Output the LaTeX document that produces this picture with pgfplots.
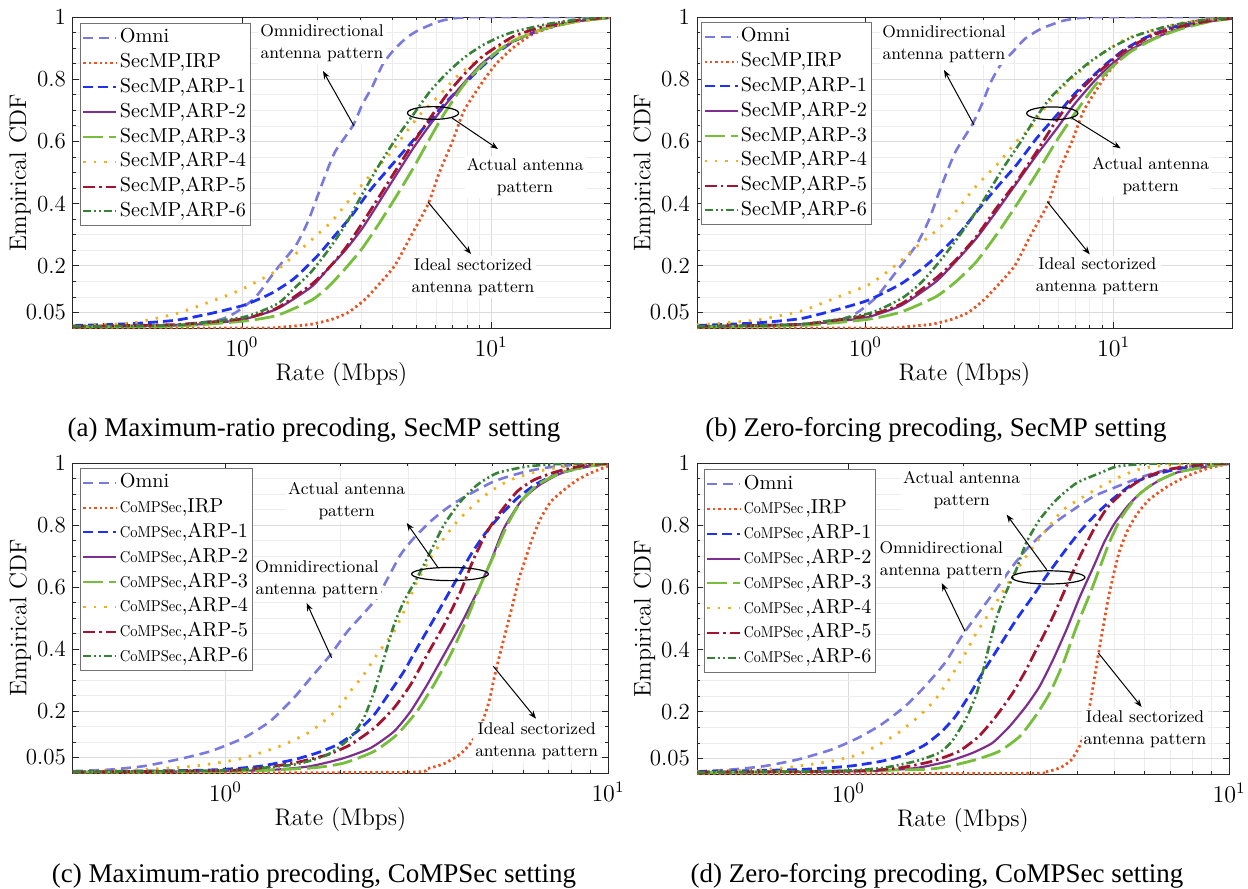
\documentclass[border=0pt]{standalone}
\usepackage{fontspec}
\usepackage{graphicx}
\usepackage{pgfplots}
\pgfplotsset{compat=1.18}
\usetikzlibrary{arrows.meta}
\newfontfamily\capfont{Liberation Serif}
\definecolor{cOmni}{RGB}{122,122,222}
\definecolor{cIRP}{RGB}{232,85,35}
\definecolor{cAa}{RGB}{30,50,240}
\definecolor{cAb}{RGB}{126,47,142}
\definecolor{cAc}{RGB}{119,190,60}
\definecolor{cAd}{RGB}{237,177,32}
\definecolor{cAe}{RGB}{162,20,47}
\definecolor{cAf}{RGB}{55,130,55}
\newcommand{\annfont}{\fontsize{8.5}{11}\selectfont}
\newcommand{\cm}{\scalebox{0.72}[0.78]{CoMPSec}}
\newcommand{\cmd}{\scalebox{0.69}[0.78]{CoMPSec}\kern1pt}
\tikzset{
  omni/.style={draw=cOmni, line width=1.3pt, dash pattern=on 5pt off 3pt},
  irp/.style={draw=cIRP, line width=1.4pt, dash pattern=on 1.2pt off 1.5pt},
  arpa/.style={draw=cAa, line width=1.4pt, dash pattern=on 5pt off 2.5pt},
  arpb/.style={draw=cAb, line width=1.1pt},
  arpc/.style={draw=cAc, line width=1.4pt, dash pattern=on 10pt off 3pt},
  arpd/.style={draw=cAd, line width=1.4pt, dash pattern=on 1.2pt off 4pt},
  arpe/.style={draw=cAe, line width=1.4pt, dash pattern=on 6pt off 2pt on 1.2pt off 2pt},
  arpf/.style={draw=cAf, line width=1.3pt, dash pattern=on 4pt off 1.5pt on 1pt off 1.5pt on 1pt off 1.5pt},
  legimg/.style={line width=1pt},
  ann/.style={fill=white, inner sep=1pt, align=center, font=\annfont},
  arr/.style={-{Stealth[length=4pt,width=3pt]}, line width=0.5pt},
}
\pgfplotsset{
  legend image code/.code={\draw[#1] (0pt,0pt) -- (16.5pt,0pt);},
}
\pgfplotsset{
  every axis/.append style={
    scale only axis, ymin=0, ymax=1,
    xtick={1,10},
    ytick={0.05,0.2,0.4,0.6,0.8,1}, yticklabels={0.05,0.2,0.4,0.6,0.8,1},
    minor ytick={0.1,0.15,0.25,0.3,0.35,0.45,0.5,0.55,0.65,0.7,0.75,0.85,0.9,0.95},
    grid=both,
    major grid style={black!14, line width=0.4pt},
    minor grid style={black!7, line width=0.3pt},
    tick align=inside, major tick length=3pt, minor tick length=1.5pt,
    axis line style={black!85, line width=0.5pt},
    tick style={black!85, line width=0.4pt},
    ticklabel style={font=\fontsize{11.5}{13}\selectfont},
    xticklabel style={yshift=-1pt},
    label style={font=\fontsize{12}{14}\selectfont},
    xlabel={Rate (Mbps)}, ylabel={Empirical CDF},
    xlabel style={at={(axis description cs:0.5,-0.151)}, anchor=center},
    ylabel style={at={(axis description cs:-0.0987,0.5)}, anchor=center},
    legend cell align=left,
    legend style={anchor=north west, draw=black!55, line width=0.5pt, fill=white,
      inner sep=1pt, row sep=0pt, font=\fontsize{10.1}{12}\selectfont,
      nodes={inner sep=1.2pt, text height=7.5pt, text depth=2.5pt}},
  },
  every axis plot/.append style={smooth, tension=0.35},
}
\newcommand{\leg}[2]{\addlegendimage{#1, legimg}\addlegendentry{#2}}
\begin{document}
\begin{tikzpicture}
\useasboundingbox (0,0) rectangle (624pt,-444.5pt);
% ---------------- (a)
\begin{semilogxaxis}[at={(36.5pt,-8.5pt)}, anchor=north west, width=268.5pt, height=155.5pt,
  xmin=0.21, xmax=30, legend style={at={(0.013,0.981)}}]
\leg{omni}{Omni}
\leg{irp}{SecMP,IRP}
\leg{arpa}{SecMP,ARP-1}
\leg{arpb}{SecMP,ARP-2}
\leg{arpc}{SecMP,ARP-3}
\leg{arpd}{SecMP,ARP-4}
\leg{arpe}{SecMP,ARP-5}
\leg{arpf}{SecMP,ARP-6}
\addplot[omni, forget plot] coordinates {(0.21,0.004) (0.5,0.008) (0.8,0.025) (0.945,0.05) (1.137,0.10) (1.368,0.186) (1.65,0.267) (1.84,0.342) (2.02,0.428) (2.19,0.503) (2.37,0.568) (2.79,0.651) (3.04,0.718) (3.34,0.777) (3.67,0.847) (4.03,0.89) (4.57,0.933) (5.18,0.96) (6.25,0.987) (7.31,0.997) (9.1,1.0) (30,1.0)};
\addplot[irp, forget plot] coordinates {(0.21,0) (1.2,0.0) (1.5,0.004) (1.9,0.012) (2.3,0.028) (2.67,0.05) (3.1,0.09) (3.5,0.135) (4.1,0.2) (4.8,0.3) (5.6,0.4) (6.2,0.5) (7.0,0.6) (7.8,0.7) (9.4,0.8) (10.5,0.85) (12.2,0.9) (14.6,0.944) (18.1,0.971) (23.3,0.99) (30,0.999)};
\addplot[arpa, forget plot] coordinates {(0.21,0.008) (0.36,0.014) (0.543,0.025) (0.743,0.046) (1.016,0.073) (1.31,0.111) (1.62,0.159) (2.02,0.234) (2.37,0.299) (2.77,0.363) (3.24,0.439) (3.79,0.503) (4.57,0.578) (5.51,0.654) (6.65,0.729) (7.78,0.783) (9.1,0.837) (10.6,0.885) (12.4,0.923) (16.0,0.96) (21.9,0.987) (30,0.998)};
\addplot[arpb, forget plot] coordinates {(0.21,0.005) (0.543,0.009) (0.743,0.014) (1.016,0.028) (1.39,0.062) (1.90,0.132) (2.22,0.191) (2.60,0.25) (3.04,0.32) (3.56,0.406) (4.16,0.492) (4.87,0.578) (5.69,0.654) (6.65,0.724) (7.78,0.788) (9.1,0.847) (10.6,0.89) (12.4,0.923) (16,0.96) (21.9,0.985) (30,0.998)};
\addplot[arpc, forget plot] coordinates {(0.21,0.004) (0.543,0.006) (1.016,0.022) (1.39,0.041) (1.9,0.089) (2.22,0.132) (2.6,0.191) (3.04,0.256) (3.56,0.337) (4.16,0.423) (4.87,0.514) (5.69,0.611) (6.45,0.686) (7.78,0.783) (9.1,0.842) (10.6,0.89) (12.4,0.925) (16,0.96) (21.9,0.985) (30,0.998)};
\addplot[arpd, forget plot] coordinates {(0.21,0.008) (0.36,0.016) (0.543,0.046) (0.743,0.084) (0.985,0.122) (1.35,0.18) (1.62,0.234) (1.96,0.293) (2.29,0.342) (2.77,0.423) (3.24,0.487) (3.85,0.552) (4.43,0.616) (5.18,0.686) (6.25,0.751) (7.31,0.81) (8.55,0.853) (10,0.89) (12.4,0.928) (17,0.966) (23.3,0.987) (30,0.998)};
\addplot[arpe, forget plot] coordinates {(0.21,0.005) (0.543,0.011) (1.016,0.03) (1.39,0.065) (1.9,0.14) (2.22,0.191) (2.6,0.256) (3.04,0.337) (3.56,0.423) (4.16,0.509) (4.87,0.595) (5.69,0.675) (6.65,0.751) (7.78,0.815) (9.1,0.869) (10.6,0.906) (12.4,0.939) (16,0.968) (21.9,0.989) (30,0.999)};
\addplot[arpf, forget plot] coordinates {(0.21,0.005) (0.543,0.009) (1.016,0.035) (1.39,0.078) (1.62,0.127) (1.9,0.181) (2.22,0.25) (2.6,0.331) (3.04,0.43) (3.56,0.525) (4.16,0.61) (4.87,0.686) (5.69,0.761) (6.65,0.82) (7.78,0.869) (9.1,0.906) (10.6,0.933) (12.4,0.953) (17,0.978) (23.3,0.994) (30,1.0)};
\node[ann] at (rel axis cs:0.4637,0.9164) {Omnidirectional\\antenna pattern};
\draw[arr] (rel axis cs:0.5233,0.6495) -- (rel axis cs:0.4655,0.8264);
\draw[line width=0.6pt] (rel axis cs:0.6704,0.6913) ellipse (12.8pt and 3.2pt);
\draw[arr] (rel axis cs:0.7058,0.6752) -- (rel axis cs:0.7914,0.5756);
\node[ann] at (rel axis cs:0.8417,0.4855) {Actual antenna\\pattern};
\draw[arr] (rel axis cs:0.6611,0.4051) -- (rel axis cs:0.7412,0.2379);
\node[ann] at (rel axis cs:0.7449,0.164) {Ideal sectorized\\antenna pattern};
\end{semilogxaxis}
% ---------------- (b)
\begin{semilogxaxis}[at={(348.5pt,-8.5pt)}, anchor=north west, width=267.5pt, height=155.5pt,
  xmin=0.21, xmax=30, legend style={at={(0.0075,0.984)}}]
\leg{omni}{Omni}
\leg{irp}{SecMP,IRP}
\leg{arpa}{SecMP,ARP-1}
\leg{arpb}{SecMP,ARP-2}
\leg{arpc}{SecMP,ARP-3}
\leg{arpd}{SecMP,ARP-4}
\leg{arpe}{SecMP,ARP-5}
\leg{arpf}{SecMP,ARP-6}
\addplot[omni, forget plot] coordinates {(0.21,0.004) (0.5,0.008) (0.78,0.025) (0.93,0.05) (1.11,0.10) (1.33,0.18) (1.60,0.265) (1.80,0.345) (1.97,0.43) (2.14,0.505) (2.32,0.57) (2.70,0.655) (2.95,0.72) (3.20,0.79) (3.50,0.845) (3.9,0.885) (4.4,0.93) (5.1,0.962) (6.2,0.987) (7.3,0.997) (9,1.0) (30,1.0)};
\addplot[irp, forget plot] coordinates {(0.21,0) (1.2,0) (1.45,0.004) (1.85,0.012) (2.23,0.028) (2.6,0.05) (3.0,0.09) (3.4,0.135) (4.0,0.2) (4.65,0.3) (5.45,0.4) (6.0,0.5) (6.8,0.6) (7.6,0.7) (9.1,0.8) (10.2,0.85) (11.9,0.9) (14.2,0.944) (17.6,0.971) (22.6,0.99) (30,0.999)};
\addplot[arpa, forget plot] coordinates {(0.21,0.008) (0.36,0.016) (0.548,0.03) (0.75,0.057) (1.025,0.089) (1.40,0.143) (1.80,0.208) (2.39,0.304) (2.88,0.385) (3.37,0.45) (4.07,0.525) (4.91,0.611) (5.93,0.686) (6.93,0.751) (8.10,0.804) (9.46,0.853) (11.1,0.896) (13.4,0.933) (17.2,0.966) (23.5,0.987) (30,0.996)};
\addplot[arpb, forget plot] coordinates {(0.21,0.005) (0.548,0.012) (0.75,0.02) (1.025,0.035) (1.40,0.073) (1.92,0.148) (2.31,0.213) (2.80,0.288) (3.37,0.374) (4.07,0.466) (4.91,0.557) (5.93,0.643) (6.93,0.718) (8.37,0.794) (9.78,0.847) (11.8,0.896) (14.7,0.933) (18.9,0.966) (25,0.987) (30,0.995)};
\addplot[arpc, forget plot] coordinates {(0.21,0.004) (0.548,0.008) (1.025,0.028) (1.40,0.052) (1.92,0.1) (2.31,0.148) (2.80,0.213) (3.37,0.299) (4.07,0.396) (4.91,0.498) (5.93,0.605) (6.93,0.686) (8.37,0.777) (9.78,0.837) (11.8,0.89) (14.7,0.931) (18.9,0.963) (25,0.987) (30,0.995)};
\addplot[arpd, forget plot] coordinates {(0.21,0.01) (0.36,0.025) (0.548,0.054) (0.75,0.095) (1.025,0.138) (1.2,0.175) (1.40,0.218) (1.64,0.267) (1.98,0.32) (2.31,0.374) (2.71,0.444) (3.07,0.49) (3.48,0.535) (4.07,0.6) (4.76,0.654) (5.22,0.702) (6.13,0.767) (7.37,0.826) (8.88,0.88) (11.1,0.928) (14.7,0.96) (20,0.985) (30,0.998)};
\addplot[arpe, forget plot] coordinates {(0.21,0.005) (0.548,0.012) (1.025,0.041) (1.40,0.078) (1.92,0.159) (2.31,0.218) (2.80,0.294) (3.37,0.385) (4.07,0.471) (4.91,0.568) (5.74,0.654) (6.71,0.729) (8.10,0.799) (9.78,0.858) (11.8,0.906) (14.7,0.944) (18.9,0.971) (25,0.989) (30,0.996)};
\addplot[arpf, forget plot] coordinates {(0.21,0.005) (0.548,0.012) (1.025,0.046) (1.40,0.095) (1.69,0.148) (2.04,0.224) (2.46,0.31) (2.97,0.406) (3.59,0.514) (4.20,0.595) (4.76,0.665) (5.56,0.74) (6.71,0.804) (8.10,0.858) (9.78,0.901) (12.2,0.939) (16.1,0.968) (22.1,0.989) (30,0.998)};
\node[ann] at (rel axis cs:0.4617,0.912) {Omnidirectional\\antenna pattern};
\draw[arr] (rel axis cs:0.5178,0.6527) -- (rel axis cs:0.4617,0.8296);
\draw[line width=0.6pt] (rel axis cs:0.6641,0.6903) ellipse (12.8pt and 3.2pt);
\draw[arr] (rel axis cs:0.7015,0.6743) -- (rel axis cs:0.7919,0.5778);
\node[ann] at (rel axis cs:0.848,0.4887) {Actual antenna\\pattern};
\draw[arr] (rel axis cs:0.6548,0.4062) -- (rel axis cs:0.734,0.2369);
\node[ann] at (rel axis cs:0.7483,0.165) {Ideal sectorized\\antenna pattern};
\end{semilogxaxis}
% ---------------- (c)
\begin{semilogxaxis}[at={(36.5pt,-231.5pt)}, anchor=north west, width=267.5pt, height=155pt,
  xmin=0.4, xmax=10, legend style={at={(0.013,0.984)}}]
\leg{omni}{Omni}
\leg{irp}{\cm,IRP}
\leg{arpa}{\cm,ARP-1}
\leg{arpb}{\cm,ARP-2}
\leg{arpc}{\cm,ARP-3}
\leg{arpd}{\cm,ARP-4}
\leg{arpe}{\cm,ARP-5}
\leg{arpf}{\cm,ARP-6}
\addplot[omni, forget plot] coordinates {(0.4,0.006) (0.5,0.011) (0.611,0.022) (0.747,0.043) (0.914,0.07) (1.117,0.113) (1.31,0.167) (1.51,0.242) (1.67,0.306) (1.88,0.38) (2.08,0.455) (2.30,0.515) (2.49,0.565) (2.65,0.625) (2.87,0.704) (3.11,0.758) (3.44,0.812) (3.80,0.855) (4.21,0.89) (5.04,0.941) (5.92,0.968) (6.81,0.984) (8.33,0.995) (10,1.0)};
\addplot[irp, forget plot] coordinates {(0.4,0) (2.9,0.002) (3.37,0.014) (3.73,0.03) (4.12,0.062) (4.40,0.1) (4.65,0.15) (4.89,0.231) (5.04,0.306) (5.19,0.371) (5.35,0.435) (5.52,0.5) (5.69,0.565) (5.86,0.629) (6.10,0.694) (6.35,0.758) (6.68,0.823) (7.10,0.876) (7.69,0.914) (8.33,0.946) (9.02,0.968) (10,0.99)};
\addplot[arpa, forget plot] coordinates {(0.4,0.004) (0.8,0.008) (1.0,0.012) (1.235,0.022) (1.51,0.043) (1.74,0.065) (1.96,0.091) (2.21,0.134) (2.45,0.188) (2.70,0.263) (2.93,0.328) (3.17,0.403) (3.44,0.478) (3.73,0.554) (4.04,0.629) (4.38,0.704) (4.75,0.769) (5.25,0.833) (5.80,0.887) (6.55,0.935) (7.53,0.968) (8.85,0.989) (10,0.997)};
\addplot[arpb, forget plot] coordinates {(0.4,0.003) (1.0,0.006) (1.36,0.011) (1.67,0.022) (2.04,0.048) (2.40,0.081) (2.76,0.134) (3.05,0.199) (3.37,0.285) (3.73,0.382) (4.12,0.478) (4.56,0.586) (4.94,0.683) (5.35,0.79) (5.92,0.876) (6.55,0.925) (7.38,0.962) (8.33,0.984) (10,0.997)};
\addplot[arpc, forget plot] coordinates {(0.4,0.003) (1.0,0.005) (1.67,0.016) (2.04,0.032) (2.45,0.07) (2.81,0.124) (3.17,0.199) (3.51,0.285) (3.88,0.382) (4.29,0.5) (4.65,0.608) (5.04,0.704) (5.46,0.801) (5.92,0.876) (6.55,0.93) (7.53,0.968) (8.85,0.989) (10,0.997)};
\addplot[arpd, forget plot] coordinates {(0.4,0.004) (0.611,0.011) (0.826,0.022) (1.07,0.043) (1.235,0.065) (1.42,0.091) (1.67,0.134) (1.96,0.204) (2.12,0.263) (2.30,0.317) (2.49,0.382) (2.76,0.457) (2.93,0.522) (3.17,0.618) (3.44,0.694) (3.73,0.758) (4.04,0.812) (4.47,0.866) (4.94,0.909) (5.57,0.946) (6.55,0.973) (8.0,0.992) (10,1.0)};
\addplot[arpe, forget plot] coordinates {(0.4,0.003) (1.0,0.008) (1.235,0.016) (1.51,0.032) (1.85,0.059) (2.12,0.091) (2.45,0.145) (2.76,0.21) (3.05,0.285) (3.37,0.382) (3.73,0.478) (4.12,0.586) (4.47,0.694) (4.84,0.78) (5.25,0.844) (5.80,0.909) (6.42,0.946) (7.38,0.973) (8.67,0.992) (10,0.999)};
\addplot[arpf, forget plot] coordinates {(0.4,0.004) (1.0,0.009) (1.51,0.027) (1.85,0.059) (2.12,0.113) (2.30,0.177) (2.45,0.263) (2.60,0.371) (2.76,0.478) (2.93,0.554) (3.17,0.629) (3.44,0.715) (3.73,0.801) (4.12,0.876) (4.56,0.93) (5.14,0.968) (6.17,0.989) (7.5,0.997) (10,1.0)};
\node[ann] at (rel axis cs:0.5116,0.8764) {Actual antenna\\pattern};
\draw[arr] (rel axis cs:0.6828,0.6613) -- (rel axis cs:0.6237,0.8065);
\draw[line width=0.6pt] (rel axis cs:0.7047,0.6419) ellipse (19.2pt and 3.3pt);
\coordinate (omC) at (rel axis cs:0.456,0.6269);
\draw[arr] (rel axis cs:0.4835,0.371) -- (rel axis cs:0.4368,0.5484);
\draw[arr] (rel axis cs:0.7857,0.3441) -- (rel axis cs:0.8654,0.1753);
\node[ann] at (rel axis cs:0.8667,0.1022) {Ideal sectorized\\antenna pattern};
\end{semilogxaxis}
\node[ann] at (omC) {Omnidirectional\\antenna pattern};
% ---------------- (d)
\begin{semilogxaxis}[at={(348.5pt,-231.5pt)}, anchor=north west, width=266pt, height=155.5pt,
  xmin=0.4, xmax=10, legend style={at={(0.013,0.98)}}]
\leg{omni}{Omni}
\leg{irp}{\cmd,IRP}
\leg{arpa}{\cmd,ARP-1}
\leg{arpb}{\cmd,ARP-2}
\leg{arpc}{\cmd,ARP-3}
\leg{arpd}{\cmd,ARP-4}
\leg{arpe}{\cmd,ARP-5}
\leg{arpf}{\cmd,ARP-6}
\addplot[omni, forget plot] coordinates {(0.4,0.008) (0.49,0.014) (0.598,0.025) (0.733,0.046) (0.90,0.078) (1.06,0.116) (1.22,0.159) (1.41,0.218) (1.59,0.282) (1.80,0.36) (1.99,0.445) (2.20,0.518) (2.44,0.593) (2.70,0.668) (2.93,0.721) (3.25,0.775) (3.52,0.812) (3.90,0.85) (4.41,0.893) (4.98,0.92) (5.63,0.946) (6.36,0.968) (7.33,0.984) (8.81,0.995) (10,0.998)};
\addplot[irp, forget plot] coordinates {(0.4,0) (2.9,0.002) (3.3,0.007) (3.6,0.02) (3.85,0.045) (4.05,0.09) (4.2,0.15) (4.35,0.25) (4.5,0.36) (4.65,0.46) (4.8,0.555) (4.97,0.64) (5.15,0.715) (5.4,0.78) (5.72,0.834) (6.17,0.882) (6.9,0.925) (7.8,0.959) (8.81,0.983) (10,0.998)};
\addplot[arpa, forget plot] coordinates {(0.4,0.008) (0.733,0.014) (1.0,0.025) (1.22,0.041) (1.41,0.062) (1.59,0.094) (1.76,0.137) (1.91,0.185) (2.07,0.25) (2.25,0.325) (2.49,0.41) (2.76,0.496) (3.05,0.571) (3.31,0.636) (3.67,0.711) (4.06,0.78) (4.50,0.839) (4.98,0.887) (5.63,0.936) (6.36,0.962) (7.33,0.981) (8.81,0.995) (10,0.998)};
\addplot[arpb, forget plot] coordinates {(0.4,0.005) (1.1,0.009) (1.50,0.019) (1.83,0.041) (2.12,0.068) (2.39,0.1) (2.65,0.153) (2.93,0.218) (3.18,0.282) (3.45,0.368) (3.74,0.464) (4.06,0.571) (4.41,0.668) (4.69,0.743) (4.98,0.802) (5.41,0.861) (5.86,0.904) (6.49,0.941) (7.33,0.97) (8.81,0.989) (10,0.998)};
\addplot[arpc, forget plot] coordinates {(0.4,0.004) (1.5,0.014) (1.83,0.025) (2.16,0.046) (2.49,0.073) (2.82,0.121) (3.12,0.191) (3.38,0.26) (3.67,0.357) (3.98,0.475) (4.32,0.582) (4.59,0.668) (4.88,0.753) (5.24,0.829) (5.74,0.893) (6.36,0.936) (7.33,0.97) (8.81,0.989) (10,0.998)};
\addplot[arpd, forget plot] coordinates {(0.4,0.008) (0.598,0.014) (0.733,0.025) (0.90,0.041) (1.06,0.062) (1.20,0.094) (1.35,0.132) (1.53,0.185) (1.69,0.239) (1.83,0.3) (2.03,0.389) (2.16,0.45) (2.44,0.55) (2.70,0.636) (2.99,0.715) (3.31,0.785) (3.67,0.85) (4.23,0.898) (4.78,0.935) (5.30,0.962) (5.98,0.984) (7.19,0.995) (10,1.0)};
\addplot[arpe, forget plot] coordinates {(0.4,0.006) (1.0,0.009) (1.35,0.019) (1.66,0.041) (1.95,0.073) (2.20,0.121) (2.44,0.185) (2.70,0.26) (2.93,0.335) (3.18,0.421) (3.45,0.507) (3.74,0.603) (4.06,0.70) (4.41,0.786) (4.78,0.855) (5.30,0.909) (5.98,0.952) (6.90,0.979) (8.46,0.995) (10,0.999)};
\addplot[arpf, forget plot] coordinates {(0.4,0.006) (0.9,0.009) (1.22,0.019) (1.50,0.041) (1.73,0.068) (1.87,0.105) (2.03,0.175) (2.16,0.25) (2.25,0.325) (2.34,0.41) (2.44,0.496) (2.59,0.582) (2.76,0.657) (2.93,0.743) (3.18,0.818) (3.52,0.882) (3.98,0.936) (4.59,0.968) (5.08,0.989) (6.23,0.998) (10,1.0)};
\node[ann] at (rel axis cs:0.4975,0.9142) {Actual antenna\\pattern};
\draw[arr] (rel axis cs:0.6573,0.6569) -- (rel axis cs:0.5821,0.8338);
\draw[line width=0.6pt] (rel axis cs:0.6604,0.6322) ellipse (18.3pt and 3.3pt);
\coordinate (omD) at (rel axis cs:0.459,0.689);
\draw[arr] (rel axis cs:0.5038,0.4585) -- (rel axis cs:0.46,0.6141);
\draw[arr] (rel axis cs:0.7544,0.389) -- (rel axis cs:0.8358,0.2154);
\node[ann] at (rel axis cs:0.8421,0.1425) {Ideal sectorized\\antenna pattern};
\end{semilogxaxis}
\node[ann] at (omD) {Omnidirectional\\antenna pattern};
% captions
\node[font=\capfont\fontsize{13.5}{16}\selectfont] at (157pt,-215pt) {(a) Maximum-ratio precoding, SecMP setting};
\node[font=\capfont\fontsize{13.5}{16}\selectfont] at (468pt,-215pt) {(b) Zero-forcing precoding, SecMP setting};
\node[font=\capfont\fontsize{13.5}{16}\selectfont] at (157pt,-438pt) {(c) Maximum-ratio precoding, CoMPSec setting};
\node[font=\capfont\fontsize{13.5}{16}\selectfont] at (468.5pt,-438pt) {(d) Zero-forcing precoding, CoMPSec setting};
\end{tikzpicture}
\end{document}
